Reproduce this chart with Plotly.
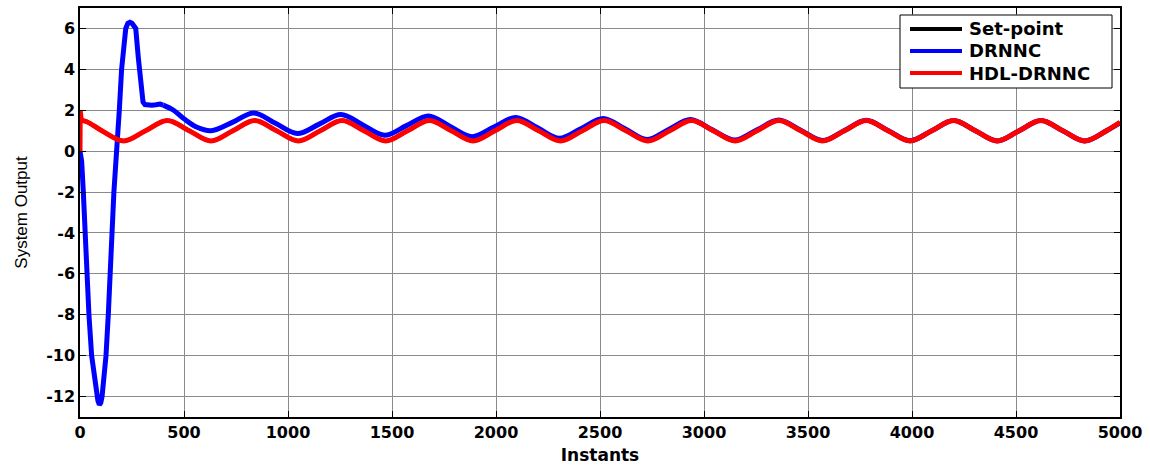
import plotly.graph_objects as go

# Set-point: sampled about every quarter period (period ~420 instants)
sp_t = [0, 30, 105, 210, 315, 420, 525, 630, 735, 840, 945, 1050, 1155, 1260,
        1365, 1470, 1575, 1680, 1785, 1890, 1995, 2100, 2205, 2310, 2415, 2520,
        2625, 2730, 2835, 2940, 3045, 3150, 3255, 3360, 3465, 3570, 3675, 3780,
        3885, 3990, 4095, 4200, 4305, 4410, 4515, 4620, 4725, 4830, 4935, 5000]
sp_v = [1.5, 1.45, 1.0, 0.5, 1.0, 1.5, 1.0, 0.5, 1.0, 1.5, 1.0, 0.5, 1.0, 1.5,
        1.0, 0.5, 1.0, 1.5, 1.0, 0.5, 1.0, 1.5, 1.0, 0.5, 1.0, 1.5,
        1.0, 0.5, 1.0, 1.5, 1.0, 0.5, 1.0, 1.5, 1.0, 0.5, 1.0, 1.5,
        1.0, 0.5, 1.0, 1.5, 1.0, 0.5, 1.0, 1.5, 1.0, 0.5, 1.0, 1.41]

# DRNNC: start-up transient
drnnc_t_start = [0, 8, 16, 24, 32, 43, 56, 68, 78, 86, 93, 100, 106, 112, 125,
                 136, 144, 152, 163, 172, 177, 181, 185, 189, 200, 211, 220,
                 230, 240, 250, 260, 268, 280, 290, 297, 303, 312, 325, 345,
                 365, 385, 400]
drnnc_v_start = [0.0, -0.5, -2.0, -4.0, -6.0, -8.0, -10.0, -11.0, -11.7, -12.2,
                 -12.4, -12.3, -12.0, -11.5, -10.0, -8.0, -6.0, -4.0, -2.0,
                 -0.6, 0.0, 0.4, 1.2, 2.0, 4.0, 5.5, 6.0, 6.25, 6.3, 6.25,
                 6.15, 6.0, 4.6, 3.5, 2.7, 2.4, 2.28, 2.25, 2.25, 2.27, 2.3,
                 2.25]

# DRNNC: oscillating tracking phase
drnnc_t = [400, 450, 500, 560, 630, 735, 835, 940, 1045, 1150, 1255, 1360, 1465,
           1570, 1675, 1780, 1885, 1990, 2095, 2200, 2305, 2410, 2515, 2620,
           2725, 2830, 2935, 3040, 3148, 3253, 3360, 3465, 3570, 3675, 3780,
           3885, 3990, 4095, 4200, 4305, 4410, 4515, 4620, 4725, 4830, 4935,
           5000]
drnnc_v = [2.25, 2.0, 1.58, 1.18, 1.0, 1.42, 1.87, 1.36, 0.86, 1.32, 1.79, 1.28,
           0.78, 1.25, 1.72, 1.21, 0.71, 1.18, 1.65, 1.14, 0.63, 1.11, 1.6,
           1.09, 0.57, 1.06, 1.55, 1.04, 0.54, 1.03, 1.52, 1.02, 0.52, 1.01,
           1.51, 1.01, 0.51, 1.0, 1.5, 1.0, 0.5, 1.0, 1.5, 1.0, 0.5, 1.0, 1.38]

# HDL-DRNNC: short start-up spike, afterwards it tracks the set-point
hdl_t_start = [0, 1, 5, 10]
hdl_v_start = [0.0, 2.0, 1.6, 1.5]
hdl_t = sp_t
hdl_v = sp_v

y_ticks = [-12, -10, -8, -6, -4, -2, 0, 2, 4, 6]
y_tick_text = [str(v) for v in y_ticks]

series_names = ["Set-point", "DRNNC", "HDL-DRNNC"]
series_colors = ["black", "#0000ff", "#ff0000"]

LW = 5

# plot-area geometry in pixels
W, H = 1150, 465
ML, MR, MT, MB = 80, 30, 8, 48
PW, PH = W - ML - MR, H - MT - MB


def px_x(x):
    return (x - ML) / PW


def px_y(y):
    return 1 - (y - MT) / PH


fig = go.Figure()
fig.add_trace(go.Scatter(x=sp_t, y=sp_v, mode="lines", name=series_names[0],
                         line=dict(color=series_colors[0], width=4,
                                   shape="spline")))
fig.add_trace(go.Scatter(x=drnnc_t_start, y=drnnc_v_start, mode="lines",
                         name=series_names[1],
                         line=dict(color=series_colors[1], width=LW)))
fig.add_trace(go.Scatter(x=drnnc_t, y=drnnc_v, mode="lines",
                         name=series_names[1],
                         line=dict(color=series_colors[1], width=LW,
                                   shape="spline")))
fig.add_trace(go.Scatter(x=hdl_t_start, y=hdl_v_start, mode="lines",
                         name=series_names[2],
                         line=dict(color=series_colors[2], width=LW)))
fig.add_trace(go.Scatter(x=hdl_t, y=hdl_v, mode="lines", name=series_names[2],
                         line=dict(color=series_colors[2], width=LW,
                                   shape="spline")))

# legend box drawn in the upper-right corner of the axes
shapes = [dict(type="rect", xref="paper", yref="paper",
               x0=px_x(900), x1=px_x(1112), y0=px_y(88), y1=px_y(15),
               fillcolor="white", line=dict(color="black", width=1),
               layer="above")]
annotations = []
for i, (name, color) in enumerate(zip(series_names, series_colors)):
    yc = 29 + 22 * i
    shapes.append(dict(type="line", xref="paper", yref="paper",
                       x0=px_x(910), x1=px_x(962), y0=px_y(yc), y1=px_y(yc),
                       line=dict(color=color, width=4), layer="above"))
    annotations.append(dict(xref="paper", yref="paper", x=px_x(967),
                            y=px_y(yc), xanchor="left", yanchor="middle",
                            text=name, showarrow=False,
                            font=dict(family="DejaVu Sans", size=18,
                                      color="black", weight="bold")))

tick_font = dict(family="DejaVu Sans", size=16, color="black", weight="bold")
grid_color = "#8a8a8a"

fig.update_layout(
    width=W, height=H,
    margin=dict(l=ML, r=MR, t=MT, b=MB, autoexpand=False),
    paper_bgcolor="white", plot_bgcolor="white",
    showlegend=False,
    shapes=shapes,
    annotations=annotations,
)
fig.update_xaxes(
    range=[0, 5000], dtick=500, tick0=0, automargin=False,
    showgrid=True, gridcolor=grid_color, gridwidth=1,
    zeroline=False,
    showline=True, linecolor="black", linewidth=1.5, mirror="ticks",
    ticks="inside", ticklen=6, tickcolor="black",
    tickfont=tick_font,
    title=dict(text="Instants", standoff=8,
               font=dict(family="DejaVu Sans", size=17, color="black",
                         weight="bold")),
)
fig.update_yaxes(
    range=[-13, 7], tickvals=y_ticks, ticktext=y_tick_text, automargin=False,
    showgrid=True, gridcolor=grid_color, gridwidth=1,
    zeroline=False,
    showline=True, linecolor="black", linewidth=1.5, mirror="ticks",
    ticks="inside", ticklen=6, tickcolor="black",
    tickfont=tick_font,
    title=dict(text="System Output", standoff=14,
               font=dict(family="Liberation Sans", size=17, color="black")),
)

fig.write_html("out.html")
